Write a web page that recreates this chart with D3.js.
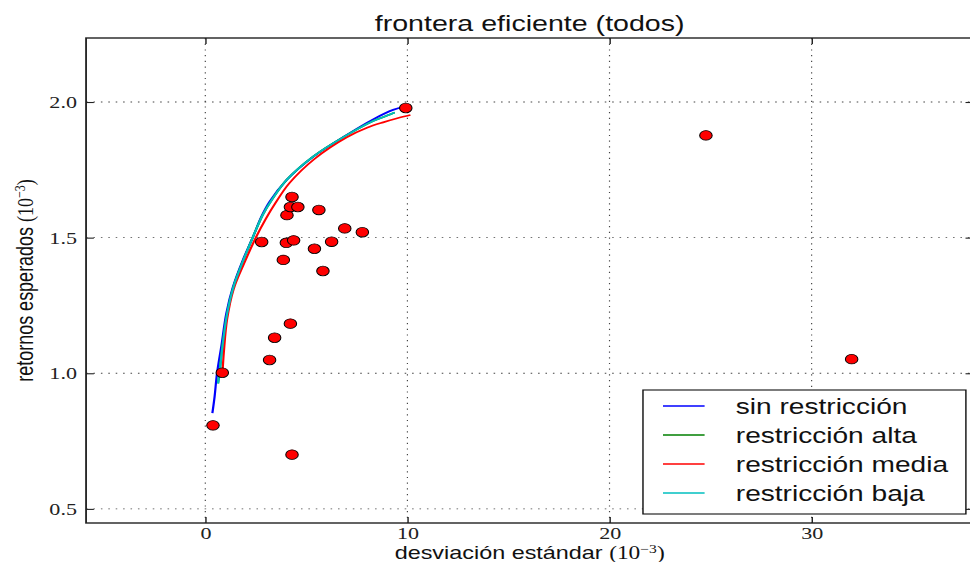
<!DOCTYPE html>
<html>
<head>
<meta charset="utf-8">
<script src="https://cdn.jsdelivr.net/npm/d3@7"></script>
<style>
  html, body { margin: 0; padding: 0; background: #fff; }
  svg { display: block; }
</style>
</head>
<body>
<script>
// ---- data (desviación estándar and retornos esperados, both in units of 10^-3) ----
const chartTitle = "frontera eficiente (todos)";
const xTicks = [0, 10, 20, 30];
const yTicks = [0.5, 1.0, 1.5, 2.0];
const xTickLabels = ["0", "10", "20", "30"];
const yTickLabels = ["0.5", "1.0", "1.5", "2.0"];

const seriesNames = ["sin restricción", "restricción alta", "restricción media", "restricción baja"];
const seriesColors = ["#0000ff", "#007f00", "#ff0000", "#00bfbf"];

const sinRestriccionX = [0.35, 0.46, 0.58, 0.79, 1.04, 1.37, 1.86, 2.36, 2.77, 3.18, 4.01, 5.33, 6.98, 8.30, 9.29, 9.87];
const sinRestriccionY = [0.853, 0.914, 1.000, 1.098, 1.221, 1.319, 1.418, 1.503, 1.577, 1.633, 1.712, 1.798, 1.878, 1.936, 1.971, 1.983];

const altaX = [0.63, 0.70, 0.85, 1.08, 1.40, 1.90, 2.40, 2.85, 3.30, 4.05, 5.35, 7.00, 8.30, 9.00, 9.37];
const altaY = [0.963, 1.000, 1.100, 1.220, 1.320, 1.420, 1.510, 1.585, 1.640, 1.715, 1.800, 1.878, 1.930, 1.950, 1.961];

const mediaX = [0.85, 0.92, 1.08, 1.40, 1.95, 2.50, 3.00, 3.45, 4.15, 5.40, 7.00, 8.00, 8.80, 9.50, 10.15];
const mediaY = [1.000, 1.080, 1.200, 1.310, 1.410, 1.500, 1.570, 1.625, 1.700, 1.790, 1.870, 1.905, 1.925, 1.940, 1.952];

const bajaX = [0.63, 0.70, 0.85, 1.08, 1.40, 1.90, 2.40, 2.85, 3.30, 4.05, 5.35, 7.00, 8.30, 9.00, 9.37];
const bajaY = [0.963, 1.000, 1.100, 1.220, 1.320, 1.420, 1.510, 1.585, 1.640, 1.715, 1.800, 1.878, 1.930, 1.950, 1.961];

// individual assets
const activosX = [0.38, 0.84, 3.18, 3.43, 4.21, 4.29, 2.79, 3.86, 4.01, 4.37, 5.40, 5.82, 6.25, 6.90, 7.77, 5.62, 4.04, 4.21, 4.58, 4.29, 9.92, 24.77, 31.98];
const activosY = [0.808, 1.002, 1.049, 1.131, 1.183, 0.700, 1.484, 1.418, 1.481, 1.490, 1.459, 1.377, 1.485, 1.534, 1.520, 1.602, 1.583, 1.613, 1.613, 1.650, 1.978, 1.877, 1.052];

const seriesX = [sinRestriccionX, altaX, mediaX, bajaX];
const seriesY = [sinRestriccionY, altaY, mediaY, bajaY];

// ---- layout ----
const W = 970, H = 562;
const SX = 1.3;                 // horizontal stretch of the whole figure
const plot = { left: 66.2, right: 748.7, top: 38, bottom: 523 };

const sans = "'Liberation Sans', Arial, Helvetica, sans-serif";
const serif = "'Liberation Serif', 'Times New Roman', serif";

const svg = d3.select("body").append("svg")
  .attr("width", W).attr("height", H);
svg.append("rect").attr("width", W).attr("height", H).attr("fill", "#fff");

const g = svg.append("g").attr("transform", `scale(${SX},1)`);

const x = d3.scaleLinear().domain([-5.9, 38]).range([plot.left, plot.right]);
const y = d3.scaleLinear().domain([0.448, 2.236]).range([plot.bottom, plot.top]);

// grid
const grid = g.append("g").attr("stroke", "#444").attr("stroke-width", 0.9)
  .attr("stroke-dasharray", "1.2 4.5").attr("fill", "none");
xTicks.forEach(t => grid.append("line")
  .attr("x1", x(t)).attr("x2", x(t)).attr("y1", plot.top).attr("y2", plot.bottom));
yTicks.forEach(t => grid.append("line")
  .attr("x1", plot.left).attr("x2", plot.right).attr("y1", y(t)).attr("y2", y(t)));

// axes with inward ticks on all four sides
const tickLen = 6;
const axBottom = d3.axisBottom(x).tickValues(xTicks).tickSize(-tickLen).tickPadding(4)
  .tickFormat((d, i) => xTickLabels[i]);
const axTop = d3.axisTop(x).tickValues(xTicks).tickSize(-tickLen).tickFormat("");
const axLeft = d3.axisLeft(y).tickValues(yTicks).tickSize(-tickLen).tickPadding(7)
  .tickFormat((d, i) => yTickLabels[i]);
const axRight = d3.axisRight(y).tickValues(yTicks).tickSize(-tickLen).tickFormat("");

function styleAxis(sel) {
  sel.select(".domain").remove();
  sel.selectAll(".tick line").attr("stroke", "#222").attr("stroke-width", 1.1);
  sel.selectAll(".tick text").attr("font-family", serif).attr("font-size", 17).attr("fill", "#222");
}
g.append("g").attr("transform", `translate(0,${plot.bottom})`).call(axBottom).call(styleAxis);
g.append("g").attr("transform", `translate(0,${plot.top})`).call(axTop).call(styleAxis);
g.append("g").attr("transform", `translate(${plot.left},0)`).call(axLeft).call(styleAxis);
g.append("g").attr("transform", `translate(${plot.right},0)`).call(axRight).call(styleAxis);

// frontier curves
const line = d3.line()
  .x(d => x(d[0])).y(d => y(d[1]))
  .curve(d3.curveCatmullRom.alpha(0.5));
seriesNames.forEach((name, i) => {
  const pts = seriesX[i].map((v, j) => [v, seriesY[i][j]]);
  g.append("path").datum(pts)
    .attr("d", line)
    .attr("fill", "none")
    .attr("stroke", seriesColors[i])
    .attr("stroke-width", 1.7)
    .attr("stroke-linejoin", "round");
});

// assets
g.append("g").selectAll("circle")
  .data(activosX.map((v, j) => [v, activosY[j]]))
  .join("circle")
  .attr("cx", d => x(d[0]))
  .attr("cy", d => y(d[1]))
  .attr("r", 4.8)
  .attr("fill", "#ff0000")
  .attr("stroke", "#000")
  .attr("stroke-width", 0.8);

// frame
g.append("rect")
  .attr("x", plot.left).attr("y", plot.top)
  .attr("width", plot.right - plot.left).attr("height", plot.bottom - plot.top)
  .attr("fill", "none").attr("stroke", "#222").attr("stroke-width", 1.4);

// title
g.append("text")
  .attr("x", (plot.left + plot.right) / 2).attr("y", 31)
  .attr("text-anchor", "middle")
  .attr("font-family", sans).attr("font-size", 22).attr("fill", "#111")
  .text(chartTitle);

// axis labels with the 10^-3 unit
function unitLabel(sel, label) {
  sel.append("tspan").text(label + " ");
  sel.append("tspan").attr("font-family", serif).text("(10");
  sel.append("tspan").attr("font-family", serif).attr("font-size", 12).attr("dy", -6).text("−3");
  sel.append("tspan").attr("font-family", serif).attr("dy", 6).text(")");
}
g.append("text")
  .attr("x", (plot.left + plot.right) / 2).attr("y", 559)
  .attr("text-anchor", "middle")
  .attr("font-family", sans).attr("font-size", 18).attr("fill", "#111")
  .call(unitLabel, "desviación estándar");

g.append("text")
  .attr("transform", `translate(25,${(plot.top + plot.bottom) / 2}) rotate(-90)`)
  .attr("text-anchor", "middle")
  .attr("font-family", sans).attr("font-size", 18).attr("fill", "#111")
  .call(unitLabel, "retornos esperados");

// legend
const legend = { left: 494.6, top: 390, right: 743, bottom: 514 };
const lg = g.append("g");
lg.append("rect")
  .attr("x", legend.left).attr("y", legend.top)
  .attr("width", legend.right - legend.left).attr("height", legend.bottom - legend.top)
  .attr("fill", "#fff").attr("stroke", "#111").attr("stroke-width", 1.1);
const rowY = d3.scalePoint().domain(seriesNames).range([406, 493]);
seriesNames.forEach((name, i) => {
  lg.append("line")
    .attr("x1", 510).attr("x2", 542)
    .attr("y1", rowY(name)).attr("y2", rowY(name))
    .attr("stroke", seriesColors[i]).attr("stroke-width", 1.7);
  lg.append("text")
    .attr("x", 566).attr("y", rowY(name))
    .attr("dy", "0.35em")
    .attr("font-family", sans).attr("font-size", 21.6).attr("fill", "#111")
    .text(name);
});
</script>
</body>
</html>
